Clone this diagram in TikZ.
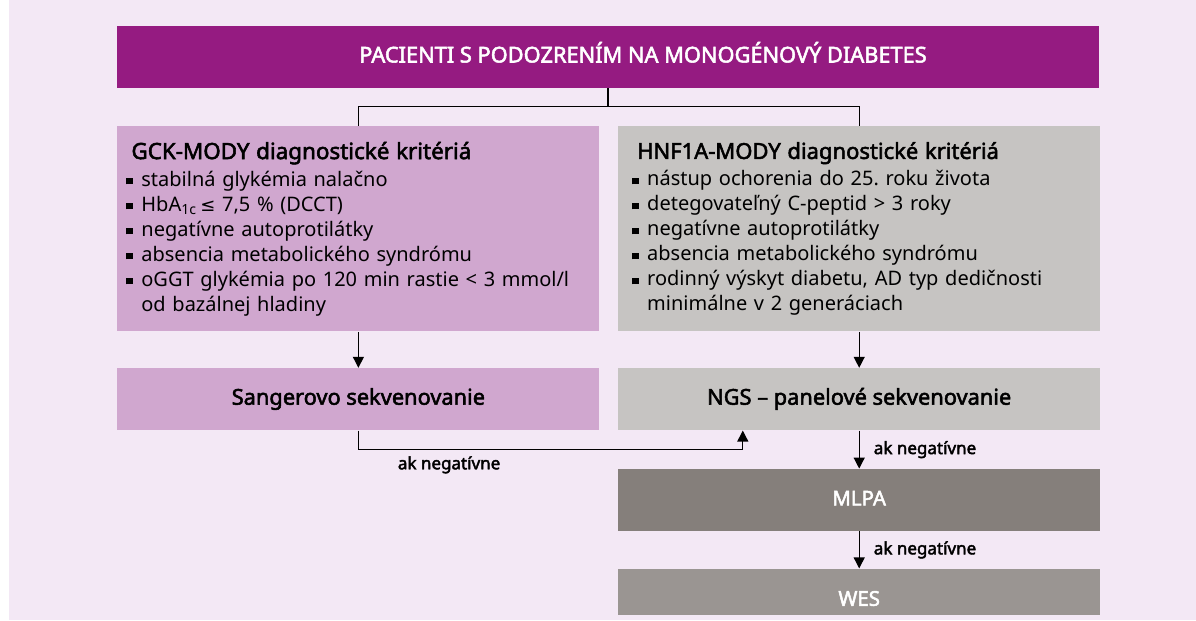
\documentclass[tikz,border=0pt]{standalone}
\usepackage{fontspec}
\setmainfont{Noto Sans}[BoldFont={Noto Sans}, BoldFeatures={FakeBold=2.4}]
\newfontfamily\symfont{DejaVu Sans}
\usetikzlibrary{arrows.meta,positioning,calc}
\definecolor{bgviolet}{HTML}{F3E8F5}
\definecolor{titleviolet}{HTML}{951B81}
\definecolor{gckviolet}{HTML}{D0A7CF}
\definecolor{hnfgrey}{HTML}{C6C4C2}
\definecolor{mlpagrey}{HTML}{857F7B}
\definecolor{wesgrey}{HTML}{9A9592}
\newcommand{\bul}{\hspace*{-2.5pt}\makebox[7.5pt][l]{\rule[0.8pt]{3.2pt}{3.2pt}}}
\newcommand{\cont}{\hspace*{5pt}}
\tikzset{
    box/.style={rectangle, inner sep=0pt, minimum width=241pt, minimum height=31pt,
                text height=8pt, text depth=2.5pt, font=\bfseries\fontsize{10.9}{12}\selectfont},
    crit/.style={rectangle, minimum width=241pt, minimum height=102.5pt, inner ysep=0pt,
                 align=left, font=\fontsize{10}{12.5}\selectfont},
    post/.style={-{Triangle[length=5.5pt,width=5.5pt]}, line width=0.65pt, shorten >=0pt},
    link/.style={line width=0.65pt},
    neg/.style={font=\bfseries\fontsize{8.5}{10}\selectfont, inner sep=1pt},
  }

\begin{document}
\begin{tikzpicture}[x=0.5pt,y=-0.5pt]
  \useasboundingbox (0,0) rectangle (1196,621);
  \fill[bgviolet] (9,0) rectangle (1196,620);

  \node (pacienti) [box, fill=titleviolet, text=white, minimum width=491pt] at (608,57)
        {\hspace*{35pt}PACIENTI S PODOZRENÍM NA MONOGÉNOVÝ DIABETES};
  \node (gck) [crit, fill=gckviolet, inner xsep=7pt, text width=227pt, anchor=north west] at (117,126)
        {{\bfseries\fontsize{11.2}{14}\selectfont GCK-MODY diagnostické kritériá}\\[1pt]
         \bul stabilná glykémia nalačno\\
         \bul HbA\textsubscript{1c}\,{\symfont\fontsize{9}{12}\selectfont ≤} 7,5 \% (DCCT)\\
         \bul negatívne autoprotilátky\\
         \bul absencia metabolického syndrómu\\
         \bul oGGT glykémia po 120 min rastie < 3 mmol/l\\
         \cont od bazálnej hladiny};
  \node (hnf) [crit, fill=hnfgrey, inner xsep=9.5pt, text width=222pt, right=9pt of gck]
        {{\bfseries\fontsize{11}{14}\selectfont HNF1A-MODY diagnostické kritériá}\\[1pt]
         \bul nástup ochorenia do 25.\ roku života\\
         \bul detegovateľný C-peptid > 3 roky\\
         \bul negatívne autoprotilátky\\
         \bul absencia metabolického syndrómu\\
         \bul rodinný výskyt diabetu, AD typ dedičnosti\\
         \cont minimálne v 2 generáciach};

  \node (sanger) [box, fill=gckviolet, below=18pt of gck] {Sangerovo sekvenovanie};
  \node (ngs) [box, fill=hnfgrey, below=18pt of hnf] {NGS – panelové sekvenovanie};
  \node (mlpa) [box, fill=mlpagrey, text=white, font=\bfseries\fontsize{10.2}{12}\selectfont,
                below=19pt of ngs] {MLPA};
  \node (wes) [box, fill=wesgrey, text=white, font=\bfseries\fontsize{10.2}{12}\selectfont,
               minimum height=23pt, text height=14pt, text depth=0pt, below=18.5pt of mlpa] {WES};

  % rozdelenie
  \coordinate (split) at ($(pacienti.south)+(0,18)$);
  \draw[link] (pacienti.south) -- (split);
  \draw[link] (gck.north) |- (split) -| (hnf.north);

  \draw[post] (gck) -- (sanger);
  \draw[post] (hnf) -- (ngs);

  % spat na NGS
  \coordinate (turn) at ($(sanger.south)+(0,19)$);
  \coordinate (back) at ($(ngs.south west)+(125,0)$);
  \draw[post] (sanger.south) -- (turn) -| node[neg, below=2pt, pos=0.118] {ak negatívne} (back);

  \draw[post] (ngs) -- node[neg, right=6pt] {ak negatívne} (mlpa);
  \draw[post] (mlpa) -- node[neg, right=6pt] {ak negatívne} (wes);
\end{tikzpicture}
\end{document}
